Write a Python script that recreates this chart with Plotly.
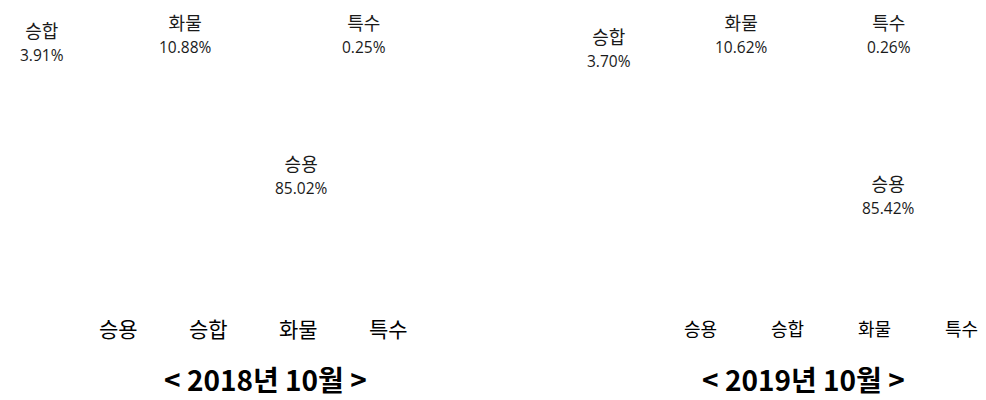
import plotly.graph_objects as go

# ---- data ----
categories = ["승용", "승합", "화물", "특수"]
share_2018 = [85.02, 3.91, 10.88, 0.25]
share_2019 = [85.42, 3.70, 10.62, 0.26]
titles = ["< 2018년 10월 >", "< 2019년 10월 >"]

# ---- layout/styling (positions in pixels on a 986x400 canvas) ----
W, H = 986, 400
FONT = "Noto Sans CJK KR"
NUMFONT = "Open Sans"
# centre of each two-line data label block (category + percent)
label_pos_2018 = [(293, 166), (34, 33), (177, 25), (356, 25)]
label_pos_2019 = [(880, 186), (601, 39), (733, 25), (881, 25)]
title_pos = [(257, 371), (795, 371)]

fig = go.Figure()
# second chart's legend entries get an invisible zero-width suffix so that
# plotly does not merge them with the first chart's legend entries
for i, (vals, leg, suffix) in enumerate([(share_2018, "legend", ""),
                                         (share_2019, "legend2", "\u200b")]):
    fig.add_trace(go.Pie(
        labels=[c + suffix for c in categories], values=vals, sort=False,
        direction="clockwise", rotation=0, textinfo="none",
        hoverinfo="label+percent",
        marker=dict(colors=["#ffffff"] * 4, line=dict(color="#ffffff", width=0)),
        domain=dict(x=[0.0, 0.5] if i == 0 else [0.5, 1.0], y=[0.25, 1.0]),
        legend=leg, showlegend=True,
    ))

annotations = []
for vals, pos in [(share_2018, label_pos_2018), (share_2019, label_pos_2019)]:
    for cat, v, (px, py) in zip(categories, vals, pos):
        txt = (f"{cat}<br><span style='font-family:{NUMFONT};font-size:15.5px'>"
               f"{v:.2f}%</span>")
        annotations.append(dict(
            x=px / W, y=1 - py / H, xref="paper", yref="paper", showarrow=False,
            text=txt, font=dict(family=FONT, size=18, color="#1a1a1a"),
            xanchor="center", yanchor="middle", align="center"))
for t, (px, py) in zip(titles, title_pos):
    annotations.append(dict(
        x=px / W, y=1 - py / H, xref="paper", yref="paper", showarrow=False,
        text=t, font=dict(family=FONT, size=28, color="#000000", weight="bold"),
        xanchor="center", yanchor="middle"))

fig.update_layout(
    width=W, height=H, margin=dict(l=0, r=0, t=0, b=0),
    paper_bgcolor="white", plot_bgcolor="white",
    font=dict(family=FONT, color="#000000"),
    annotations=annotations,
    legend=dict(orientation="h", x=51 / W, y=1 - 321 / H,
                xanchor="left", yanchor="middle",
                font=dict(family=FONT, size=21, color="#000000"),
                entrywidth=45, entrywidthmode="pixels", bgcolor="rgba(0,0,0,0)"),
    legend2=dict(orientation="h", x=636 / W, y=1 - 321 / H,
                 xanchor="left", yanchor="middle",
                 font=dict(family=FONT, size=18, color="#000000"),
                 entrywidth=42, entrywidthmode="pixels", bgcolor="rgba(0,0,0,0)"),
)

fig.write_html("out.html")
